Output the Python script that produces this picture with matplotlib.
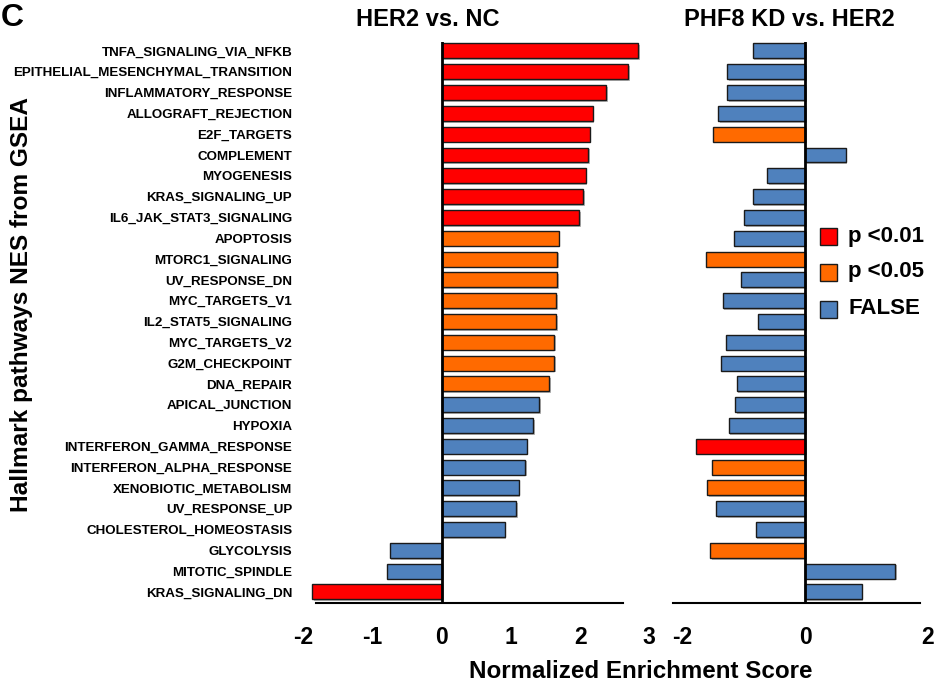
import matplotlib
matplotlib.use("Agg")
import matplotlib.pyplot as plt
import matplotlib.patheffects as pe
from matplotlib.patches import Rectangle
import numpy as np

plt.rcParams['font.family'] = ['Liberation Sans', 'DejaVu Sans']
plt.rcParams['font.weight'] = 'bold'

pathways = [
    "TNFA_SIGNALING_VIA_NFKB", "EPITHELIAL_MESENCHYMAL_TRANSITION",
    "INFLAMMATORY_RESPONSE", "ALLOGRAFT_REJECTION", "E2F_TARGETS",
    "COMPLEMENT", "MYOGENESIS", "KRAS_SIGNALING_UP", "IL6_JAK_STAT3_SIGNALING",
    "APOPTOSIS", "MTORC1_SIGNALING", "UV_RESPONSE_DN", "MYC_TARGETS_V1",
    "IL2_STAT5_SIGNALING", "MYC_TARGETS_V2", "G2M_CHECKPOINT", "DNA_REPAIR",
    "APICAL_JUNCTION", "HYPOXIA", "INTERFERON_GAMMA_RESPONSE",
    "INTERFERON_ALPHA_RESPONSE", "XENOBIOTIC_METABOLISM", "UV_RESPONSE_UP",
    "CHOLESTEROL_HOMEOSTASIS", "GLYCOLYSIS", "MITOTIC_SPINDLE", "KRAS_SIGNALING_DN",
]

nes_her2_vs_nc = [2.84, 2.69, 2.38, 2.18, 2.14, 2.12, 2.08, 2.04, 1.99,
                  1.69, 1.67, 1.67, 1.65, 1.65, 1.63, 1.63, 1.55,
                  1.41, 1.32, 1.23, 1.21, 1.11, 1.08, 0.91, -0.75, -0.79, -1.87]
sig_her2_vs_nc = ["p <0.01"] * 9 + ["p <0.05"] * 8 + ["FALSE"] * 9 + ["p <0.01"]

nes_phf8_vs_her2 = [-0.85, -1.27, -1.27, -1.41, -1.49, 0.66, -0.62, -0.85, -0.99,
                    -1.15, -1.61, -1.04, -1.34, -0.77, -1.28, -1.37, -1.11,
                    -1.14, -1.24, -1.77, -1.52, -1.59, -1.44, -0.80, -1.54, 1.47, 0.92]
sig_phf8_vs_her2 = ["FALSE", "FALSE", "FALSE", "FALSE", "p <0.05", "FALSE", "FALSE",
                    "FALSE", "FALSE", "FALSE", "p <0.05", "FALSE", "FALSE", "FALSE",
                    "FALSE", "FALSE", "FALSE", "FALSE", "FALSE", "p <0.01",
                    "p <0.05", "p <0.05", "FALSE", "FALSE", "p <0.05", "FALSE", "FALSE"]

sig_levels = ["p <0.01", "p <0.05", "FALSE"]
sig_colors = {"p <0.01": "#FF0000", "p <0.05": "#FF6A00", "FALSE": "#4F81BD"}

left_ticks = [-2, -1, 0, 1, 2, 3]
right_ticks = [-2, 0, 2]

W, H = 936, 688
fig = plt.figure(figsize=(W / 100, H / 100), dpi=100)

n = len(pathways)
y = np.arange(n)
top_px, bot_px = 41.6, 603.0
ax_b = 1 - bot_px / H
ax_h = (bot_px - top_px) / H

shadow = [pe.SimplePatchShadow(offset=(1.2, -1.2), shadow_rgbFace='#888888', alpha=0.6), pe.Normal()]


def draw(ax, values, sigs, xlim, ticks, spine_bounds):
    cols = [sig_colors[s] for s in sigs]
    bars = ax.barh(y, values, height=0.72, color=cols, edgecolor='#1a1a1a', linewidth=1.0, zorder=2)
    for b in bars:
        b.set_path_effects(shadow)
    ax.set_xlim(*xlim)
    ax.set_ylim(n - 1 + 0.53, -0.45)
    ax.axvline(0, color='black', lw=2.0, zorder=3)
    for s in ['top', 'right', 'left']:
        ax.spines[s].set_visible(False)
    ax.spines['bottom'].set_bounds(*spine_bounds)
    ax.spines['bottom'].set_linewidth(1.5)
    ax.set_xticks(ticks)
    ax.set_xticklabels([str(t) for t in ticks], fontsize=16.5, fontweight='bold')
    ax.tick_params(axis='x', length=0, pad=16.5)
    ax.patch.set_visible(False)


# left panel: 0 at 441.7 px, 69.2 px/unit, xlim (-2, 3)
axL = fig.add_axes([303.3 / W, ax_b, 346.0 / W, ax_h])
draw(axL, nes_her2_vs_nc, sig_her2_vs_nc, (-2, 3), left_ticks, (-1.82, 2.62))
axL.set_yticks(y)
axL.set_yticklabels(pathways, fontsize=9.6, fontweight='bold')
axL.tick_params(axis='y', length=0, pad=8)

# right panel: 0 at 805 px, 61.5 px/unit
axR = fig.add_axes([669.7 / W, ax_b, 258.3 / W, ax_h])
draw(axR, nes_phf8_vs_her2, sig_phf8_vs_her2, (-2.2, 2.0), right_ticks, (-2.15, 1.87))
axR.set_yticks([])

# titles
fig.text(428 / W, 1 - 20 / H, "HER2 vs. NC", ha='center', va='center', fontsize=17, fontweight='bold')
fig.text(789.5 / W, 1 - 20 / H, "PHF8 KD vs. HER2", ha='center', va='center', fontsize=17, fontweight='bold')
fig.text(0.5 / W, 1 - 18 / H, "C", ha='left', va='center', fontsize=23, fontweight='bold')

fig.text(641 / W, 1 - 672 / H, "Normalized Enrichment Score", ha='center', va='center',
         fontsize=17.4, fontweight='bold')
fig.text(22 / W, 1 - 305 / H, "Hallmark pathways NES from GSEA", ha='center', va='center',
         rotation=90, fontsize=17.6, fontweight='bold')

# legend
leg_y = [236.5, 272.0, 309.0]
for lvl, ly in zip(sig_levels, leg_y):
    fig.patches.append(Rectangle((820 / W, 1 - (ly + 8.5) / H), 17 / W, 17 / H,
                                 transform=fig.transFigure, facecolor=sig_colors[lvl],
                                 edgecolor='#1a1a1a', linewidth=1.0))
    fig.text(848 / W, 1 - ly / H, lvl, ha='left', va='center', fontsize=16, fontweight='bold')

fig.savefig("out.png", dpi=100)
